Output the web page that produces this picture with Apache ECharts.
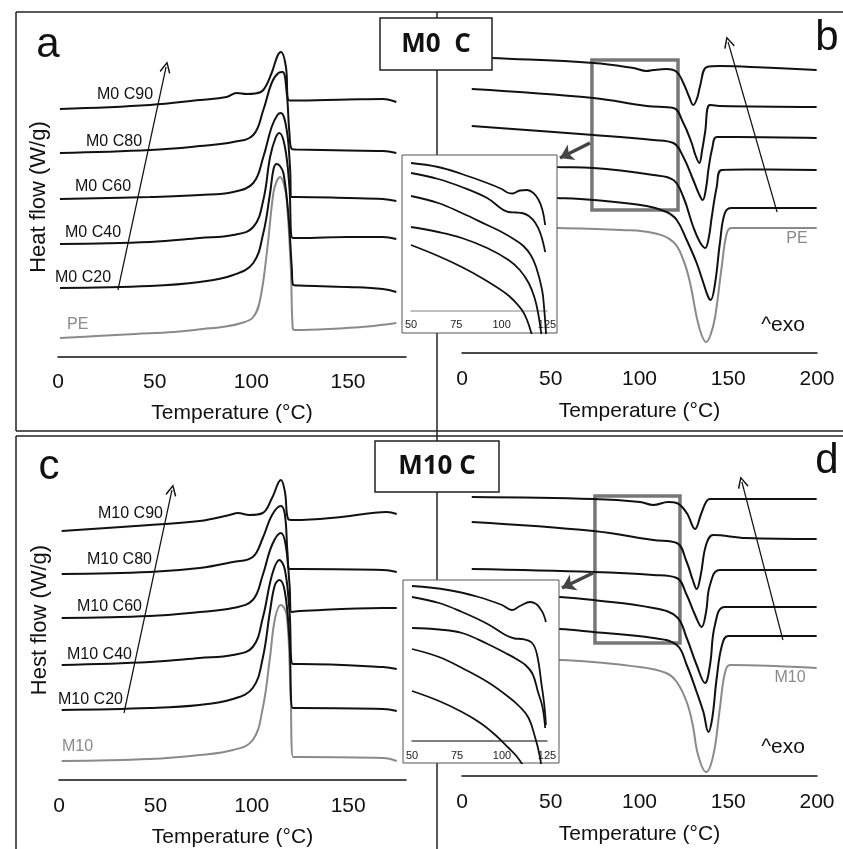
<!DOCTYPE html>
<html>
<head>
<meta charset="utf-8">
<script src="https://cdn.jsdelivr.net/npm/echarts@6/dist/echarts.min.js"></script>
<style>
html, body { margin: 0; padding: 0; background: #fff; }
#chart { width: 843px; height: 849px; }
</style>
</head>
<body>
<div id="chart"></div>
<script>
// panel a : M0 C, first curve set (T in degC, heat flow in arbitrary units)
const aPE = [[1,1.9],[20,2.1],[40,2.3],[60,2.5],[75,2.8],[85,3.0],[95,3.4],[101,4.0],[104.5,5.7],[108,10.4],[111.4,16.4],[113.2,17.6],[114.9,18.0],[116.8,17.3],[118.3,15.7],[120.4,9.0],[121.4,2.9],[122.5,2.7],[140,2.8],[160,3.05],[175,3.4]];
const aC20 = [[1,6.9],[47.6,7.1],[73.4,7.5],[90.7,8.2],[101,9.4],[106.2,12.4],[109.7,16.4],[111.5,18.8],[113.1,19.3],[114.8,19.1],[116.6,18.4],[119.1,14.4],[120.9,9.0],[121.7,7.2],[125,7.15],[150,7.0],[168,6.8],[175,6.5]];
const aC40 = [[1,11.3],[47.6,11.5],[73.4,11.9],[90.7,12.2],[101,13.0],[106.2,15.7],[109.7,20.0],[112.5,21.9],[114.5,22.4],[117.4,21.0],[119.7,17.0],[121.4,11.9],[125,11.9],[150,12.0],[168,12.0],[175,11.8]];
const aC60 = [[1,15.8],[47.6,16.0],[73.4,16.2],[90.7,16.5],[101,17.4],[106.2,20.0],[110.5,23.0],[113.5,24.2],[115.3,24.4],[118.3,22.7],[120,19.0],[120.9,16.0],[123,16.0],[150,15.9],[168,15.8],[175,15.6]];
const aC80 = [[1,20.4],[47.6,20.7],[73.4,21.1],[90.7,21.5],[101,22.2],[106.2,24.7],[110.5,27.4],[114,28.4],[116.2,28.5],[118.3,26.4],[119.7,22.4],[120.9,20.8],[123,20.75],[150,20.65],[168,20.6],[175,20.4]];
const aC90 = [[1,24.8],[47.6,25.2],[73.4,25.7],[87.2,26.0],[92.4,26.4],[97.6,26.3],[102,26.35],[106.2,26.7],[110.5,28.4],[113.5,30.1],[115.3,30.5],[117.9,29.0],[119.1,25.7],[121,25.65],[150,25.75],[168,25.8],[175,25.5]];

// panel b : M0 C, second curve set
const bC90 = [[5,29.6],[16.7,29.5],[74,29.0],[96.5,28.5],[104,28.2],[107.8,28.3],[115.3,28.4],[121,28.1],[124.7,27.0],[128,25.6],[130.3,24.8],[132.5,25.5],[134,26.6],[137.9,28.6],[145.3,28.7],[170,28.55],[199.8,28.3]];
const bC80 = [[5.5,26.4],[74,25.5],[104,24.7],[119.1,24.5],[124.7,23.0],[129.4,21.0],[131.5,19.8],[133.7,19.0],[135.3,20.3],[136.9,22.0],[139.7,24.8],[145.3,24.7],[199.8,24.6]];
const bC60 = [[5.5,22.7],[74,21.8],[107.8,21.3],[119.1,21.0],[124.7,19.6],[130.3,17.3],[133.5,15.9],[135.6,15.3],[137.5,16.5],[138.8,18.3],[141,20.5],[143.5,21.6],[154.8,21.6],[199.8,21.5]];
const bC40 = [[5,19.0],[53.4,18.6],[74,18.5],[107.8,17.8],[119.1,17.3],[124.7,15.6],[130.3,12.6],[134,11.1],[137,10.5],[139,11.5],[140.7,13.6],[143.5,16.6],[146.3,18.3],[160,18.35],[199.8,18.3]];
const bC20 = [[5,15.8],[53.4,15.5],[74,15.3],[104,14.7],[115.3,14.1],[121,13.3],[126.6,11.3],[132.2,9.0],[136,7.0],[138.5,5.7],[140.1,5.3],[142.6,7.0],[145.3,11.0],[148.1,14.0],[151.9,14.5],[199.8,14.5]];
const bPE = [[5,12.6],[53.4,12.5],[89.7,12.3],[107.8,12.0],[119.1,11.1],[124.7,9.3],[128.5,7.0],[132.2,3.6],[135,1.8],[137.5,1.1],[140,1.8],[142.6,3.6],[146.3,8.6],[149.2,12.0],[151.9,12.5],[199.8,12.5]];

// inset of panel b (50-125 degC)
const ibC1 = [[50,14.8],[65,14.4],[78,13.7],[92,12.8],[100,12.2],[103.8,11.8],[106,11.75],[110,12.05],[114,12.1],[117.5,11.8],[120.4,11.1],[122.5,10.1],[124,8.6]];
const ibC2 = [[50,13.8],[65,13.2],[78,12.4],[92,11.3],[103.8,9.9],[108,9.85],[111.2,9.8],[115,9.5],[118.6,8.8],[121.5,7.7],[124,5.9]];
const ibC3 = [[50,11.5],[65,10.8],[78,9.8],[92,8.6],[100,7.9],[107.5,7.1],[112,6.5],[116,5.6],[119,4.4],[122.3,2.1],[123.5,0.1],[124.6,-2.6]];
const ibC4 = [[50,8.4],[65,7.9],[78,7.3],[92,6.3],[103.8,5.1],[110,4.1],[114.9,2.8],[118,1.4],[120,-0.1],[122.1,-2.6]];
const ibC5 = [[50,6.6],[65,5.5],[78,4.4],[90,3.2],[102,1.8],[107,1.0],[111.2,0.1],[114,-0.9],[117,-2.6]];

// panel c : M10 C, first curve set
const cM10 = [[1.4,1.9],[47.2,2.1],[72.9,2.5],[90.2,3.0],[100.5,4.0],[105.7,7.2],[109.4,12.2],[112.1,16.2],[115.1,17.5],[118.1,16.5],[120.1,8.8],[121.5,2.3],[125,2.3],[168.2,2.2],[175.2,1.9]];
const cC20 = [[1.4,7.0],[47.2,7.2],[72.9,7.5],[90.2,8.1],[100.5,9.2],[105.7,12.2],[109.4,16.8],[112,19.5],[114.3,20.0],[117.2,18.8],[119.6,13.8],[121.3,7.2],[125,7.2],[168.2,7.1],[175.2,6.9]];
const cC40 = [[1.4,11.5],[47.2,11.8],[72.9,12.2],[90.2,12.5],[100.5,13.3],[105.7,16.2],[110.5,20.5],[114.3,22.0],[117.2,21.0],[119.6,16.8],[121.3,11.6],[125,11.6],[168.2,11.3],[175.2,11.1]];
const cC60 = [[1.4,16.2],[47.2,16.4],[72.9,16.8],[90.2,17.2],[100.5,18.0],[105.7,20.5],[110.5,23.5],[115.1,24.7],[117.6,23.5],[119.6,19.5],[120.6,16.8],[125,16.9],[168.2,17.2],[175.2,17.2]];
const cC80 = [[1.4,20.6],[47.2,20.8],[72.9,21.2],[90.2,21.8],[100.5,22.3],[105.7,24.2],[110.5,26.5],[115.1,27.4],[117.2,26.5],[118.5,22.8],[119.6,21.1],[125,21.1],[168.2,21.0],[175.2,20.8]];
const cC90 = [[1.4,24.9],[47.2,25.5],[72.9,25.9],[88.5,26.5],[92.8,26.7],[98.8,26.5],[105.7,26.7],[110.5,28.2],[115.1,30.0],[117.2,28.8],[118.9,26.1],[121.5,26.0],[146.5,26.3],[170,26.8],[175.2,26.6]];

// panel d : M10 C, second curve set
const dC90 = [[5.5,27.9],[74,27.7],[100.3,27.4],[107.8,27.1],[116.2,27.4],[121,27.3],[126.6,26.3],[131.3,24.7],[134.5,26.1],[137.5,27.4],[139.7,27.7],[199.8,27.7]];
const dC80 = [[5.5,25.4],[74,24.5],[107.8,23.6],[121,23.3],[126.6,21.4],[130,19.6],[132.2,18.7],[134.5,20.1],[137.5,23.1],[141.6,24.1],[160,23.8],[199.8,23.7]];
const dC60 = [[5.5,20.7],[74,20.4],[107.8,20.1],[121,19.8],[126.6,18.1],[131.3,16.1],[135,14.9],[137.5,16.4],[139.7,19.1],[145.3,20.6],[199.8,20.6]];
const dC40 = [[5,18.3],[55.2,17.9],[74,17.6],[107.8,16.8],[121,15.9],[126.6,13.8],[132.2,11.1],[136.9,9.3],[139.7,11.1],[142.5,15.1],[148.1,16.9],[199.8,16.9]];
const dC20 = [[5,15.1],[55.2,14.7],[74,14.4],[107.8,13.8],[121,13.1],[126.6,11.1],[132.2,8.4],[136,6.4],[138.8,4.4],[141,5.8],[143.5,9.8],[146.5,13.1],[150,14.0],[199.8,14.0]];
const dM10 = [[5,11.7],[55.2,11.6],[100,10.9],[115,10.3],[121,9.4],[126.6,7.4],[130,5.1],[133,2.1],[137.5,0.4],[141.6,2.1],[145.3,6.8],[148.1,10.3],[151,11.1],[199.8,10.8]];

// inset of panel d
const idC1 = [[50,15.5],[70,15.1],[87,14.4],[100,13.6],[105.5,13.1],[110,13.5],[115.7,13.9],[119,13.7],[121,13.3],[123,12.7],[124.4,11.9]];
const idC2 = [[50,14.4],[65,13.8],[77.8,12.9],[92,11.7],[101.9,10.6],[107,10.25],[111,10.2],[116.7,9.8],[119.5,8.6],[122,5.6],[123.5,3.6],[124.4,1.6]];
const idC3 = [[50,11.3],[65,11.15],[77.8,10.8],[92,9.7],[101.9,8.8],[108,8.2],[113,7.6],[117,6.7],[120,4.9],[122.5,3.4],[124,1.3]];
const idC4 = [[50,9.2],[65,8.4],[77.8,7.3],[92,5.9],[103.7,4.4],[110,3.4],[114.8,2.3],[118.5,0.3],[120.5,-1.1],[122,-2.6]];
const idC5 = [[50,5.0],[65,4.0],[77.8,2.9],[88,1.8],[96.3,0.6],[103.7,-0.7],[108,-1.5],[112.3,-2.6]];

const curveNamesA = ['M0 C90', 'M0 C80', 'M0 C60', 'M0 C40', 'M0 C20'];
const curveNamesC = ['M10 C90', 'M10 C80', 'M10 C60', 'M10 C40', 'M10 C20'];

const FONT = '"Liberation Sans", Arial, sans-serif';
const BLACK = '#111';
const GRAY = '#8a8a8a';
const chevron = 'path://M5,0 L10,9 L8.9,9.8 L5,2.6 L1.1,9.8 L0,9 Z';

const chart = echarts.init(document.getElementById('chart'));

function line(data, gi, color, extra) {
    return Object.assign({
        type: 'line',
        xAxisIndex: gi,
        yAxisIndex: gi,
        data: data,
        showSymbol: false,
        smooth: 0.4,
        silent: true,
        lineStyle: { color: color, width: 2 },
        itemStyle: { color: color }
    }, extra || {});
}

function thinArrow(from, to) {
    return {
        silent: true,
        symbol: ['none', chevron],
        symbolSize: [11, 12],
        label: { show: false },
        lineStyle: { color: BLACK, width: 1.2, type: 'solid' },
        data: [[{ coord: from }, { coord: to }]]
    };
}

function thickArrow(from, to) {
    return {
        silent: true,
        symbol: ['none', 'arrow'],
        symbolSize: [13, 13],
        label: { show: false },
        lineStyle: { color: '#444', width: 3.5, type: 'solid' },
        data: [[{ coord: from }, { coord: to }]]
    };
}

function zoomBox(p1, p2) {
    return {
        silent: true,
        itemStyle: { color: 'rgba(0,0,0,0)', borderColor: '#777', borderWidth: 3.5 },
        data: [[{ coord: p1 }, { coord: p2 }]]
    };
}

function mainX(gi, max, margin, gap) {
    return {
        gridIndex: gi, type: 'value', min: 0, max: max, interval: 50,
        name: 'Temperature (°C)', nameLocation: 'middle', nameGap: gap,
        nameTextStyle: { fontFamily: FONT, fontSize: 21, color: BLACK },
        axisLine: { lineStyle: { color: BLACK, width: 1.5 } },
        axisTick: { show: false },
        splitLine: { show: false },
        axisLabel: { fontFamily: FONT, fontSize: 21, color: BLACK, margin: margin, showMaxLabel: max === 200 }
    };
}

// inset x axis lifted above the grid bottom so the curves can run below it
function insetX(gi, color, margin, lift) {
    return {
        gridIndex: gi, type: 'value', min: 50, max: 125, interval: 25, z: 10,
        offset: -lift,
        axisLine: { onZero: false, lineStyle: { color: color, width: 1.5 } },
        axisTick: { show: false },
        splitLine: { show: false },
        axisLabel: { fontFamily: FONT, fontSize: 11, color: '#222', margin: margin }
    };
}

function hiddenY(gi, min, max, name) {
    return {
        gridIndex: gi, type: 'value', min: min, max: max,
        name: name || '', nameLocation: 'middle', nameGap: 8, nameRotate: 90,
        nameTextStyle: { fontFamily: FONT, fontSize: 22, color: BLACK },
        axisLine: { show: false }, axisTick: { show: false },
        axisLabel: { show: false }, splitLine: { show: false }
    };
}

function text(t, x, y, size, color, align, weight, family) {
    return {
        type: 'text', x: x, y: y, z: 7,
        style: { text: t, fontFamily: family || FONT, fontSize: size, fill: color,
                 fontWeight: weight || 'normal',
                 align: align || 'left', verticalAlign: 'middle' }
    };
}

function frame(x1, y1, x2, y2) {
    return { type: 'line', z: 1, shape: { x1: x1, y1: y1, x2: x2, y2: y2 },
             style: { stroke: '#222', lineWidth: 1.5 } };
}

const labelsA = [[97, 95], [86, 142], [75, 187], [65, 233], [55, 278]];
const labelsC = [[98, 514], [87, 560], [77, 607], [67, 655], [58, 700]];

const graphics = [
    frame(16, 12, 843, 12), frame(16, 12, 16, 431), frame(16, 431, 843, 431),
    frame(16, 436, 843, 436), frame(16, 436, 16, 849), frame(437, 12, 437, 849),
    { type: 'rect', z: 5, shape: { x: 402, y: 155, width: 155, height: 178 },
      style: { fill: '#fff', stroke: '#555', lineWidth: 1 } },
    { type: 'rect', z: 5, shape: { x: 403, y: 580, width: 156, height: 183 },
      style: { fill: '#fff', stroke: '#555', lineWidth: 1 } },
    { type: 'rect', z: 6, shape: { x: 380, y: 18, width: 112, height: 52 },
      style: { fill: '#fff', stroke: '#222', lineWidth: 1.5 } },
    { type: 'rect', z: 6, shape: { x: 375, y: 441, width: 124, height: 51 },
      style: { fill: '#fff', stroke: '#222', lineWidth: 1.5 } },
    text('M0  C', 436, 45, 26, BLACK, 'center', 'bold', '"Open Sans", sans-serif'),
    text('M10 C', 437, 467, 26, BLACK, 'center', 'bold', '"Open Sans", sans-serif'),
    text('a', 48, 45, 42, BLACK, 'center'),
    text('b', 827, 38, 42, BLACK, 'center'),
    text('c', 49, 467, 42, BLACK, 'center'),
    text('d', 827, 461, 42, BLACK, 'center'),
    text('PE', 67, 325, 16, GRAY),
    text('M10', 62, 747, 16, GRAY),
    text('PE', 797, 239, 16, GRAY, 'center'),
    text('M10', 790, 678, 16, GRAY, 'center'),
    text('^exo', 783, 325, 21, BLACK, 'center'),
    text('^exo', 783, 747, 21, BLACK, 'center')
];
curveNamesA.forEach((n, i) => graphics.push(text(n, labelsA[i][0], labelsA[i][1], 16, BLACK)));
curveNamesC.forEach((n, i) => graphics.push(text(n, labelsC[i][0], labelsC[i][1], 16, BLACK)));

const inset = { z: 10, lineStyle: { color: BLACK, width: 1.8 } };

const option = {
    animation: false,
    backgroundColor: '#fff',
    grid: [
        { left: 58, top: 37, width: 348, height: 320 },
        { left: 462, top: 33, width: 355, height: 320 },
        { left: 59, top: 460, width: 347, height: 320 },
        { left: 462, top: 456, width: 355, height: 320 },
        { left: 411, top: 155, width: 136, height: 178, z: 10 },
        { left: 412, top: 580, width: 135, height: 183, z: 10 }
    ],
    xAxis: [
        mainX(0, 180, 15, 46), mainX(1, 200, 16, 48),
        mainX(2, 180, 16, 47), mainX(3, 200, 16, 48),
        insetX(4, '#aaa', 8, 22), insetX(5, '#555', 9, 22)
    ],
    yAxis: [
        hiddenY(0, 0, 32, 'Heat flow (W/g)'), hiddenY(1, 0, 32),
        hiddenY(2, 0, 32, 'Hest flow (W/g)'), hiddenY(3, 0, 32),
        hiddenY(4, -2.2, 15.6), hiddenY(5, -2.2, 16.1)
    ],
    graphic: graphics,
    series: [
        line(aPE, 0, GRAY),
        line(aC20, 0, BLACK), line(aC40, 0, BLACK), line(aC60, 0, BLACK), line(aC80, 0, BLACK),
        line(aC90, 0, BLACK, { markLine: thinArrow([31, 6.7], [55.9, 29]) }),

        line(bPE, 1, GRAY),
        line(bC20, 1, BLACK), line(bC40, 1, BLACK), line(bC60, 1, BLACK), line(bC80, 1, BLACK, { markLine: thickArrow([72.1, 21], [55.2, 19.5]) }),
        line(bC90, 1, BLACK, { markLine: thinArrow([177.5, 14.1], [149.9, 31.1]), markArea: zoomBox([73.2, 29.3], [121.7, 14.3]) }),

        line(cM10, 2, GRAY),
        line(cC20, 2, BLACK), line(cC40, 2, BLACK), line(cC60, 2, BLACK), line(cC80, 2, BLACK),
        line(cC90, 2, BLACK, { markLine: thinArrow([33.7, 6.7], [58.6, 29]) }),

        line(dM10, 3, GRAY),
        line(dC20, 3, BLACK), line(dC40, 3, BLACK), line(dC60, 3, BLACK), line(dC80, 3, BLACK, { markLine: thickArrow([73.8, 20.3], [56.3, 18.8]) }),
        line(dC90, 3, BLACK, { markLine: thinArrow([180.8, 13.6], [157.7, 29.4]), markArea: zoomBox([74.9, 28], [122.8, 13.3]) }),

        line(ibC1, 4, BLACK, inset), line(ibC2, 4, BLACK, inset), line(ibC3, 4, BLACK, inset),
        line(ibC4, 4, BLACK, inset), line(ibC5, 4, BLACK, inset),

        line(idC1, 5, BLACK, inset), line(idC2, 5, BLACK, inset), line(idC3, 5, BLACK, inset),
        line(idC4, 5, BLACK, inset), line(idC5, 5, BLACK, inset)
    ]
};

chart.setOption(option);
</script>
</body>
</html>
